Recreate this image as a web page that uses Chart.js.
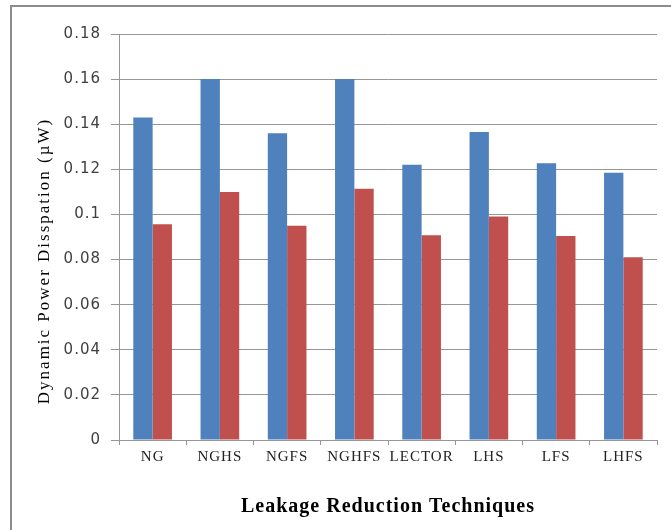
<!DOCTYPE html>
<html>
<head>
<meta charset="utf-8">
<script src="https://cdn.jsdelivr.net/npm/chart.js@4.4.1/dist/chart.umd.min.js"></script>
<style>
  body { margin: 0; background: #fff; overflow: hidden; }
  #wrap { position: relative; width: 671px; height: 530px; }
  #frame { position: absolute; left: 10px; top: 5px; width: 700px; height: 600px; border: 2px solid #8c8c8c; pointer-events: none; }
</style>
</head>
<body>
<div id="wrap">
  <canvas id="powerChart" width="671" height="530"></canvas>
  <div id="frame"></div>
</div>
<script>
// values
const techniques = ['NG', 'NGHS', 'NGFS', 'NGHFS', 'LECTOR', 'LHS', 'LFS', 'LHFS'];
const seriesA = [0.143, 0.160, 0.136, 0.160, 0.122, 0.1366, 0.1227, 0.1185];
const seriesB = [0.0956, 0.110, 0.095, 0.1114, 0.0908, 0.0991, 0.0904, 0.081];
const yTickLabels = ['0', '0.02', '0.04', '0.06', '0.08', '0.1', '0.12', '0.14', '0.16', '0.18'];
const xTitle = 'Leakage Reduction Techniques';
const yTitle = 'Dynamic Power Disspation (\u00b5W)';

const gridGray = '#969696';

// draws both axis titles so the letter spacing can match the picture
const axisTitles = {
  id: 'axisTitles',
  beforeDraw(chart) {
    chart.ctx.letterSpacing = '1px';
  },
  afterDraw(chart) {
    const ctx = chart.ctx;
    const area = chart.chartArea;
    ctx.save();
    ctx.fillStyle = '#000';
    ctx.textAlign = 'center';
    ctx.textBaseline = 'middle';
    ctx.letterSpacing = '1px';
    ctx.font = 'bold 20px "Liberation Serif"';
    ctx.fillText(xTitle, (area.left + area.right) / 2, area.bottom + 67);
    ctx.translate(45, (area.top + area.bottom) / 2 + 24);
    ctx.rotate(-Math.PI / 2);
    ctx.letterSpacing = '2px';
    ctx.font = '17px "Liberation Serif"';
    ctx.fillText(yTitle, 0, 0);
    ctx.restore();
  }
};

new Chart(document.getElementById('powerChart'), {
  type: 'bar',
  data: {
    labels: techniques,
    datasets: [
      { label: 'A', data: seriesA, backgroundColor: '#4f81bd', borderWidth: 0 },
      { label: 'B', data: seriesB, backgroundColor: '#c0504d', borderWidth: 0 }
    ]
  },
  options: {
    responsive: false,
    animation: false,
    devicePixelRatio: 1,
    layout: { padding: { left: 30, top: 34, right: 14, bottom: 0 } },
    datasets: { bar: { categoryPercentage: 0.575, barPercentage: 1 } },
    plugins: { legend: { display: false }, tooltip: { enabled: false } },
    scales: {
      x: {
        grid: { drawOnChartArea: false, drawTicks: true, tickLength: 5, color: gridGray, offset: true },
        border: { color: gridGray },
        ticks: { color: '#222', padding: 3, font: { family: 'Liberation Serif', size: 15 } },
        afterFit(scale) { scale.height = 90; }
      },
      y: {
        min: 0,
        max: 0.18,
        grid: { color: gridGray, tickLength: 8 },
        border: { color: gridGray },
        ticks: {
          stepSize: 0.02,
          padding: 10,
          color: '#404040',
          font: { family: 'DejaVu Sans', size: 15 },
          callback: (v, i) => yTickLabels[i]
        },
        afterFit(scale) { scale.width = 89; }
      }
    }
  },
  plugins: [axisTitles]
});
</script>
</body>
</html>
